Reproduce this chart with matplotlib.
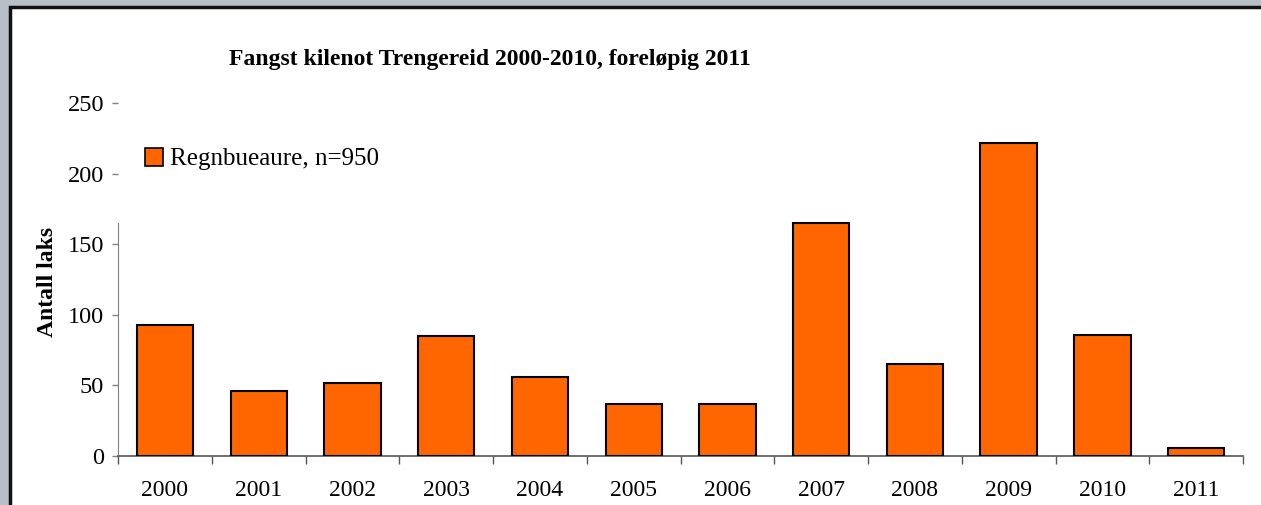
import matplotlib
matplotlib.use("Agg")
import matplotlib.pyplot as plt
from matplotlib.patches import Rectangle, Patch
import numpy as np

years = ["2000", "2001", "2002", "2003", "2004", "2005", "2006", "2007", "2008", "2009", "2010", "2011"]
counts = [93, 46, 52, 85, 56, 37, 37, 165, 65, 222, 86, 6]
yticks = [0, 50, 100, 150, 200, 250]
title = "Fangst kilenot Trengereid 2000-2010, foreløpig 2011"
ylabel = "Antall laks"
legend_label = "Regnbueaure, n=950"

plt.rcParams['font.family'] = ['Liberation Serif', 'DejaVu Serif']

W, H = 1261, 505
fig = plt.figure(figsize=(W / 100, H / 100), dpi=100, facecolor="#b9bfc7")

# white panel with dark border (background axes)
bg = fig.add_axes([0, 0, 1, 1], zorder=-10)
bg.set_xlim(0, W)
bg.set_ylim(H, 0)
bg.axis("off")
bg.add_patch(Rectangle((10, 7), W + 50, H + 50, facecolor="white",
                       edgecolor="#111111", linewidth=2.5))

ax = fig.add_axes([118 / W, (H - 456) / H, 1125 / W, 353 / H], zorder=1)
ax.set_facecolor("none")
x = np.arange(len(years))
ax.bar(x, counts, width=0.6, color="#FF6600", edgecolor="black", linewidth=1.5, zorder=3)

ax.set_xlim(-0.5, len(years) - 0.5)
ax.set_ylim(0, 250)
ax.set_yticks(yticks)
ax.set_yticklabels([str(v) for v in yticks], fontsize=17.5)
ax.tick_params(axis='y', direction='out', length=4, width=1, color="#808080", pad=6)

ax.set_xticks(x)
ax.set_xticklabels(years, fontsize=17)
ax.tick_params(axis='x', which='major', length=0, pad=17)
ax.set_xticks(np.arange(-0.5, len(years)), minor=True)
ax.tick_params(axis='x', which='minor', direction='out', length=6, width=1, color="#555555")

for s in ["top", "right"]:
    ax.spines[s].set_visible(False)
ax.spines["left"].set_color("#808080")
ax.spines["left"].set_bounds(0, 165)
ax.spines["bottom"].set_color("#555555")
ax.spines["bottom"].set_linewidth(1.2)

ax.set_ylabel(ylabel, fontsize=17, fontweight="bold")
ax.yaxis.set_label_coords((58 - 118) / 1125, (456 - 282) / 353)

fig.text(490 / W, 1 - 60 / H, title, ha="center", va="center", fontsize=17, fontweight="bold")

handle = Patch(facecolor="#FF6600", edgecolor="black", linewidth=1.2)
ax.legend([handle], [legend_label], loc="center left",
          bbox_to_anchor=(137 / W, 1 - 159 / H), bbox_transform=fig.transFigure,
          frameon=False, fontsize=18, handlelength=0.72, handleheight=0.75,
          handletextpad=0.3, borderpad=0.3, borderaxespad=0)

fig.savefig("out.png", dpi=100, facecolor=fig.get_facecolor())
